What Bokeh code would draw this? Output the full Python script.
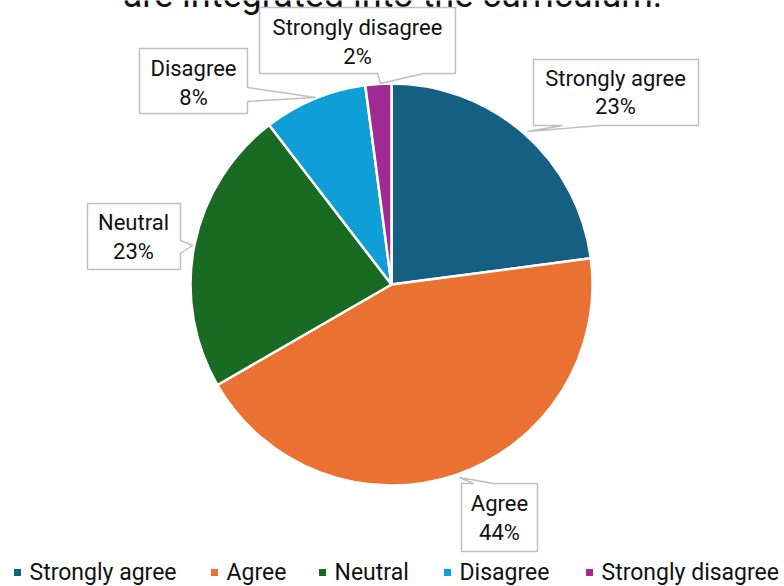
import math
from bokeh.plotting import figure
from bokeh.models import ColumnDataSource, Range1d
from bokeh.core.properties import value
from bokeh.embed import file_html
from bokeh.resources import INLINE

# ---- data ----
categories = ["Strongly agree", "Agree", "Neutral", "Disagree", "Strongly disagree"]
counts = [11, 21, 11, 4, 1]
colors = ["#156082", "#E97132", "#196B24", "#0F9ED5", "#A02B93"]
title_line = "are integrated into the curriculum."

# ---- layout (pixel coordinates, y measured from top) ----
W, H = 784, 586
FONT = "Roboto"
CX, CY, R = 391, 284, 201

def Y(py):
    return H - py

callouts = {
    "Strongly agree": [(533, 59), (698, 59), (698, 125), (600, 125), (527, 131), (562, 125), (533, 125)],
    "Agree": [(461, 483), (473, 483), (459, 477), (493, 483), (537, 483), (537, 551), (461, 551)],
    "Neutral": [(87, 203), (180, 203), (180, 240), (192, 245), (180, 253), (180, 269), (87, 269)],
    "Disagree": [(139, 48), (247, 48), (247, 87), (315, 97), (247, 101), (247, 113), (139, 113)],
    "Strongly disagree": [(259, 7), (455, 7), (455, 73), (423, 73), (380, 83), (377, 73), (259, 73)],
}
label_centers = {
    "Strongly agree": (615, 78, 106),
    "Agree": (499, 503, 532),
    "Neutral": (133, 222, 251),
    "Disagree": (193, 68, 97),
    "Strongly disagree": (357, 27, 56),
}
legend_x = [17, 214, 322, 447, 589]
legend_y = 572

# ---- figure ----
p = figure(width=W, height=H, x_range=Range1d(0, W), y_range=Range1d(0, H),
           output_backend="svg", toolbar_location=None, min_border=0)
p.axis.visible = False
p.grid.visible = False
p.outline_line_color = None
p.background_fill_color = "white"
p.border_fill_color = "white"

# title (partially cut off at top, as in the reference)
p.text(x=[W / 2], y=[Y(-6)], text=[title_line], text_align="center",
       text_baseline="alphabetic", text_font=value(FONT),
       text_font_size="36px", text_color="#111111")

total = sum(counts)
starts, ends, cum = [], [], 0.0
for c in counts:
    starts.append(math.pi / 2 - 2 * math.pi * cum / total)
    cum += c
    ends.append(math.pi / 2 - 2 * math.pi * cum / total)

src = ColumnDataSource(dict(x=[CX] * len(counts), y=[Y(CY)] * len(counts),
                            start=starts, end=ends, color=colors))
p.wedge(x="x", y="y", radius=R, start_angle="start", end_angle="end",
        direction="clock", fill_color="color", line_color="white",
        line_width=2.5, source=src)

# callouts
xs, ys = [], []
for cat in categories:
    pts = callouts[cat]
    xs.append([q[0] for q in pts])
    ys.append([Y(q[1]) for q in pts])
p.patches(xs, ys, fill_color="white", line_color="#BFBFBF", line_width=1.5)

tx, ty, tt = [], [], []
for cat, c in zip(categories, counts):
    cx, y1, y2 = label_centers[cat]
    pct = f"{round(100 * c / total)}%"
    tx += [cx, cx]
    ty += [Y(y1), Y(y2)]
    tt += [cat, pct]
p.text(x=tx, y=ty, text=tt, text_align="center", text_baseline="middle",
       text_font=value(FONT), text_font_size="22px", text_color="#111111")

# legend
p.scatter(x=legend_x, y=[Y(legend_y)] * len(categories), marker="square",
          size=7, fill_color=colors, line_color=None)
p.text(x=[lx + 12 for lx in legend_x], y=[Y(legend_y)] * len(categories),
       text=categories, text_align="left", text_baseline="middle",
       text_font=value(FONT), text_font_size="23px", text_color="#111111")

open("out.html", "w").write(file_html(p, INLINE))
